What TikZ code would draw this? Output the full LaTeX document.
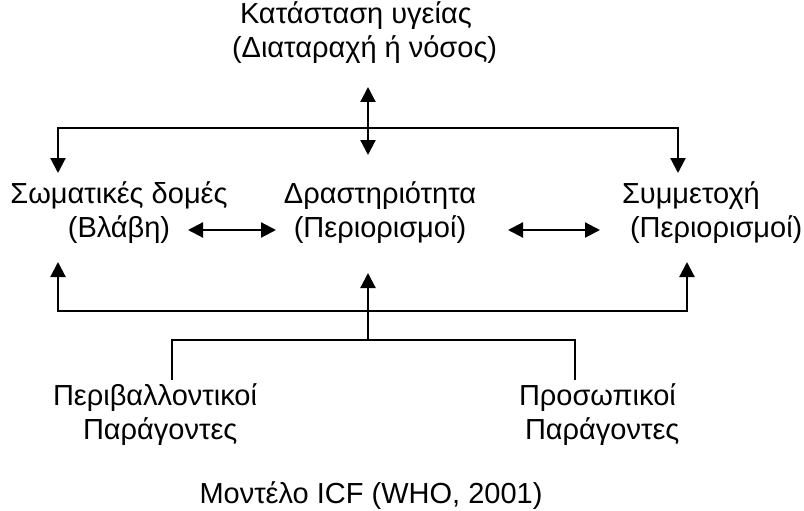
\documentclass[tikz,border=0pt]{standalone}
\usepackage{fontspec}
\setmainfont{Liberation Sans}
\usetikzlibrary{arrows.meta}
\tikzset{
  lbl/.style={inner sep=0pt, outer sep=0pt, font=\fontsize{29}{34}\selectfont},
  conn/.style={line width=2.2pt, draw=black},
  tri/.tip={Triangle[length=15pt,width=15pt]},
}
\begin{document}
\begin{tikzpicture}[x=1pt,y=-1pt]
\useasboundingbox (0,0) rectangle (804,511);
% labels (base anchor = baseline of last line)
\node[lbl, align=left, anchor=base west] (top) at (232,58) {\hspace*{8pt}Κατάσταση υγείας\\(Διαταραχή ή νόσος)};
\node[lbl, align=center, anchor=base] (body) at (119,237) {Σωματικές δομές\\(Βλάβη)};
\node[lbl, align=center, anchor=base] (act) at (380,237) {Δραστηριότητα\\(Περιορισμοί)};
\node[lbl, align=left, anchor=base west] (part) at (622,237) {Συμμετοχή\\\hspace*{8pt}(Περιορισμοί)};
\node[lbl, align=left, anchor=base west] (env) at (53,439) {Περιβαλλοντικοί\\\hspace*{30pt}Παράγοντες};
\node[lbl, align=left, anchor=base west] (pers) at (519,439) {Προσωπικοί\\\hspace*{6pt}Παράγοντες};
\node[lbl, anchor=base] (caption) at (371,503) {Μοντέλο ICF (WHO, 2001)};
% connector points
\coordinate (topA) at (368,87);
\coordinate (topB) at (368,155);
\coordinate (bodyTop) at (58,173);
\coordinate (partTop) at (678,173);
\coordinate (bodyBot) at (58,262);
\coordinate (partBot) at (687,262);
\coordinate (actBot) at (368,273);
\coordinate (ctxJoin) at (368,340);
\coordinate (envTop) at (172,380);
\coordinate (persTop) at (575,380);
\coordinate (bodyR) at (188,230);
\coordinate (actL) at (276,230);
\coordinate (actR) at (508,230);
\coordinate (partL) at (600,230);
% connectors
\draw[conn, {tri}-{tri}] (topA) -- (topB);
\draw[conn, {tri}-{tri}] (bodyTop) -- (58,128) -- (678,128) -- (partTop);
\draw[conn, {tri}-{tri}] (bodyBot) -- (58,311) -- (687,311) -- (partBot);
\draw[conn, -{tri}] (ctxJoin) -- (actBot);
\draw[conn] (envTop) -- (172,340) -- (575,340) -- (persTop);
\draw[conn, {tri}-{tri}] (bodyR) -- (actL);
\draw[conn, {tri}-{tri}] (actR) -- (partL);
\end{tikzpicture}
\end{document}
